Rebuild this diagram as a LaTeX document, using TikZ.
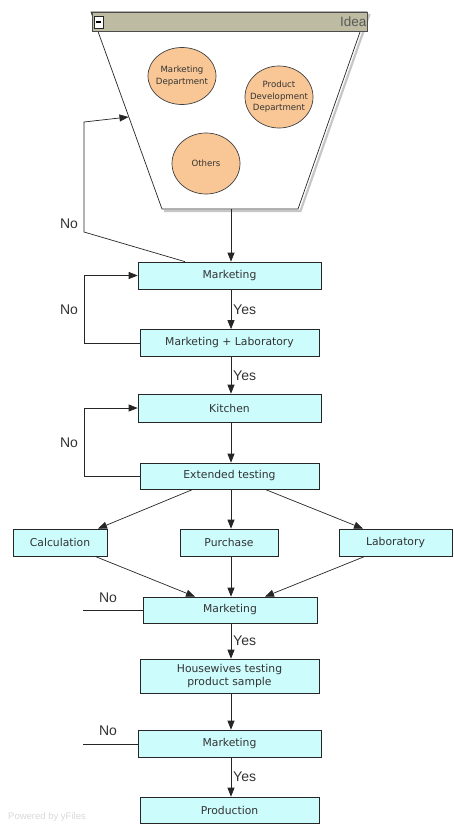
\documentclass[tikz,border=0pt]{standalone}
\usepackage{fontspec}
\setmainfont{Liberation Sans}
\newfontfamily\boxfont{DejaVu Sans}
\usetikzlibrary{arrows.meta,shapes.geometric}
\definecolor{boxfill}{HTML}{CCFCFC}
\definecolor{circfill}{HTML}{F9C796}
\definecolor{headfill}{HTML}{BDBBA1}
\definecolor{txt}{HTML}{333333}
\begin{document}
\begin{tikzpicture}[x=1pt,y=-1pt,
  box/.style={draw=black!85, fill=boxfill, line width=0.7pt, inner sep=1pt,
    font=\boxfont\fontsize{10.8}{13.5}\selectfont, text=black!80, align=center},
  dept/.style={ellipse, draw=black!75, fill=circfill, line width=0.7pt, inner ysep=0pt, inner xsep=-9pt,
    font=\boxfont\fontsize{8.6}{11.5}\selectfont, text=black!80, align=center, minimum width=68pt},
  lbl/.style={font=\fontsize{14}{16}\selectfont, text=txt, inner sep=0pt},
  arr/.style={draw=black!85, line width=0.7pt, -{Triangle[length=9pt,width=7pt]}},
  ln/.style={draw=black!85, line width=0.7pt}]
\useasboundingbox (0,0) rectangle (453,824);
\fill[white] (0,0) rectangle (453,824);
% funnel
\draw[gray!45, line width=2.2pt] (369.5,14) -- (300.5,211) -- (164,211);
\draw[black!85, line width=0.7pt, fill=white] (91,12) -- (367,12) -- (298,209) -- (162,209) -- cycle;
\draw[black!70, fill=headfill, line width=0.5pt] (92,12) rectangle (367,31);
\draw[black!85, fill=white, line width=0.5pt] (94,16) rectangle (103,28);
\draw[black, line width=1.4pt] (96,22) -- (101,22);
\node[anchor=east, font=\fontsize{13.5}{15}\selectfont, text=black!65, inner sep=0pt] (idealbl) at (366.5,22) {Idea};
\coordinate (ideabot) at (231,209);
\coordinate (ideaL) at (128.5,117);
\node[dept, minimum height=57pt] (md) at (182,76) {Marketing\\Department};
\node[dept, minimum height=62pt] (pd) at (279,97) {Product\\Development\\Department};
\node[dept, minimum height=61pt] (ot) at (206,163.5) {Others};
% boxes
\node[box, minimum width=183pt, minimum height=27pt] (m1) at (229.5,275.5) {Marketing};
\node[box, minimum width=179pt, minimum height=27pt] (ml) at (229.5,343) {Marketing + Laboratory};
\node[box, minimum width=183pt, minimum height=28pt] (ki) at (229.5,408) {Kitchen};
\node[box, minimum width=179pt, minimum height=26pt] (et) at (229.5,476) {Extended testing};
\node[box, minimum width=94pt, minimum height=27pt] (ca) at (60,542.5) {Calculation};
\node[box, minimum width=98pt, minimum height=27pt] (pu) at (229,542.5) {Purchase};
\node[box, minimum width=113pt, minimum height=27pt] (la) at (395.5,542.5) {Laboratory};
\node[box, minimum width=174pt, minimum height=26pt] (m2) at (230,610) {Marketing};
\node[box, minimum width=179pt, minimum height=34pt] (hw) at (229.5,676) {Housewives testing\\product sample};
\node[box, minimum width=183pt, minimum height=27pt] (m3) at (229.5,743.5) {Marketing};
\node[box, minimum width=179pt, minimum height=26pt] (pr) at (229.5,810) {Production};
% main flow
\draw[arr] (ideabot) -- (ideabot |- m1.north);
\draw[arr] (m1.south -| 231,0) -- (ml.north -| 231,0);
\draw[arr] (ml.south -| 231,0) -- (ki.north -| 231,0);
\draw[arr] (ki.south -| 231,0) -- (et.north -| 231,0);
\draw[arr] (et.south -| 193,0) -- (ca.north -| 98,0);
\draw[arr] (et.south -| 231,0) -- (pu.north -| 231,0);
\draw[arr] (et.south -| 265,0) -- (la.north -| 363,0);
\draw[arr] (ca.south -| 95,0) -- (m2.north -| 195,0);
\draw[arr] (pu.south -| 231,0) -- (m2.north -| 231,0);
\draw[arr] (la.south -| 365,0) -- (m2.north -| 265,0);
\draw[arr] (m2.south -| 231,0) -- (hw.north -| 231,0);
\draw[arr] (hw.south -| 231,0) -- (m3.north -| 231,0);
\draw[arr] (m3.south -| 231,0) -- (pr.north -| 231,0);
% loops
\draw[arr] (m1.north -| 185,0) -- (84,232) -- (84,122) -- (ideaL);
\draw[arr] (ml.west) -- (84,343) -- (84,275.5) -- (m1.west);
\draw[arr] (et.west) -- (84,476) -- (84,408) -- (ki.west);
\coordinate (n2) at (83,610);
\coordinate (n3) at (83,744);
\draw[ln] (n2) -- (m2.west |- n2);
\draw[ln] (n3) -- (m3.west |- n3);
% labels
\node[lbl] (no1) at (69,224) {No};
\node[lbl] (no2) at (69,310) {No};
\node[lbl] (no3) at (69,443) {No};
\node[lbl] (no4) at (108,598) {No};
\node[lbl] (no5) at (108,731) {No};
\node[lbl, anchor=west] (y1) at (233,310) {Yes};
\node[lbl, anchor=west] (y2) at (233,376) {Yes};
\node[lbl, anchor=west] (y3) at (233,641) {Yes};
\node[lbl, anchor=west] (y4) at (233,777) {Yes};
\node[anchor=west, font=\fontsize{9.5}{11}\selectfont, text=black!15, inner sep=0pt] (wm) at (8,817) {Powered by yFiles};
\end{tikzpicture}
\end{document}
